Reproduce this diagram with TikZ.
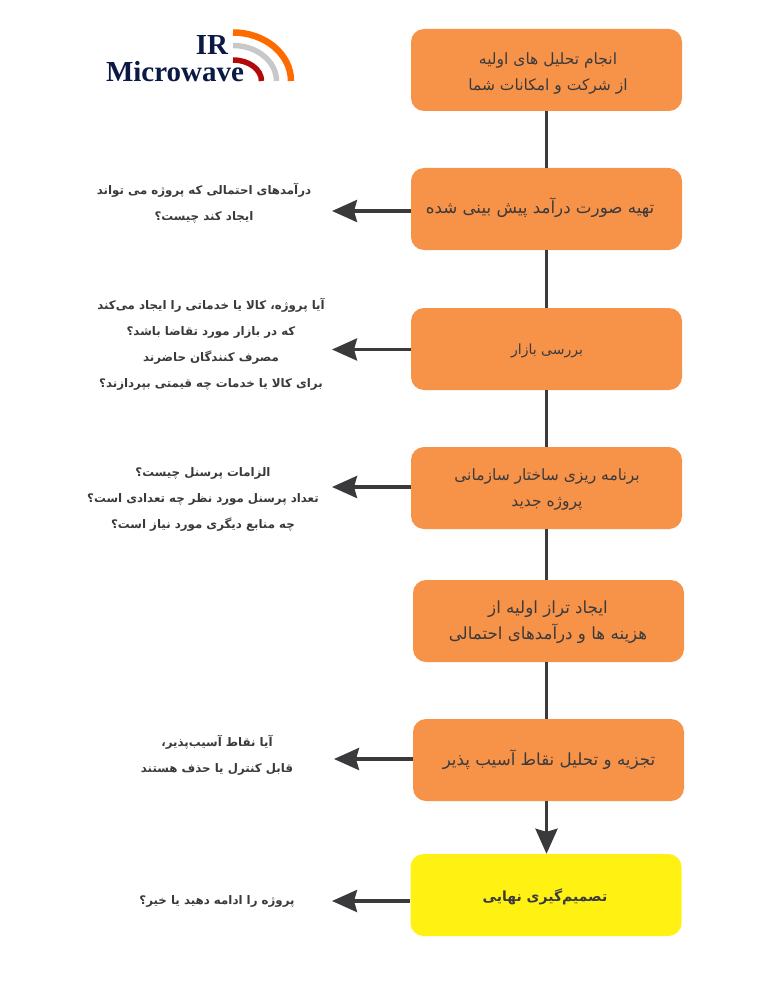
\documentclass[tikz,border=0pt]{standalone}
\usepackage{fontspec}
\usetikzlibrary{arrows.meta}
\TeXXeTstate=1
\newfontfamily\farsifont[Script=Arabic]{DejaVu Sans}
\newfontfamily\logofont{Liberation Serif}
\newcommand{\fa}[1]{\beginR #1\endR}
\definecolor{boxorange}{HTML}{F79249}
\definecolor{boxyellow}{HTML}{FFF212}
\definecolor{linegray}{HTML}{3A3A3C}
\definecolor{logoblue}{HTML}{0B1A45}
\tikzset{
	stepbox/.style={rounded corners=13pt, minimum width=271pt, minimum height=82pt, inner sep=0pt, fill=boxorange},
	endbox/.style={stepbox, fill=boxyellow},
	steptext/.style={text=linegray, align=center, font=\farsifont\fontsize{#1}{26}\selectfont},
	steptext/.default=15.5,
	asktext/.style={text=linegray, align=center, font=\farsifont\bfseries\fontsize{11.8}{26}\selectfont},
	joinline/.style={linegray, line width=3.5pt},
	askline/.style={joinline, -{Stealth[length=25pt, width=22pt, inset=3pt]}},
	logotext/.style={logoblue, anchor=base, font=\logofont\bfseries\fontsize{29}{29}\selectfont}
}
\begin{document}
\begin{tikzpicture}[x=1pt, y=-1pt]
	\useasboundingbox (0,0) rectangle (768,992);
	% boxes
	\node[stepbox] (survey) at (546.5,70) {};
	\node[stepbox] (income) at (546.5,209) {};
	\node[stepbox] (market) at (546.5,349) {};
	\node[stepbox] (staff) at (546.5,488) {};
	\node[stepbox] (balance) at (548.5,621) {};
	\node[stepbox] (risk) at (548.5,760) {};
	\node[endbox] (decision) at (546,895) {};
	% free ends of the side arrows
	\coordinate (incomeend) at (332,211);
	\coordinate (marketend) at (332,349.5);
	\coordinate (staffend) at (332,487);
	\coordinate (riskend) at (334,759);
	\coordinate (decisionend) at (332,901);
	% connectors
	\draw[joinline] (survey.south) -- (income.north);
	\draw[joinline] (income.south) -- (market.north);
	\draw[joinline] (market.south) -- (staff.north);
	\draw[joinline] (staff.south) -- (staff.south |- balance.north);
	\draw[joinline] (staff.south |- balance.south) -- (staff.south |- risk.north);
	\draw[askline] (staff.south |- risk.south) -- (staff.south |- decision.north);
	\draw[askline] (income.west |- incomeend) -- (incomeend);
	\draw[askline] (market.west |- marketend) -- (marketend);
	\draw[askline] (staff.west |- staffend) -- (staffend);
	\draw[askline] (risk.west |- riskend) -- (riskend);
	\draw[askline] (decision.west |- decisionend) -- (decisionend);
	% box texts
	\node[steptext] (surveytext) at (548,74) {\fa{انجام تحلیل های اولیه}\\\fa{از شرکت و امکانات شما}};
	\node[steptext=16.7] (incometext) at (540,208) {\fa{تهیه صورت درآمد پیش بینی شده}};
	\node[steptext=14] (markettext) at (547,351) {\fa{بررسی بازار}};
	\node[steptext] (stafftext) at (547,489) {\fa{برنامه ریزی ساختار سازمانی}\\\fa{پروژه جدید}};
	\node[steptext=16.7] (balancetext) at (548,622) {\fa{ایجاد تراز اولیه از}\\\fa{هزینه ها و درآمدهای احتمالی}};
	\node[steptext=16.7] (risktext) at (549,760) {\fa{تجزیه و تحلیل نقاط آسیب پذیر}};
	\node[steptext, font=\farsifont\bfseries\fontsize{14}{26}\selectfont] (decisiontext) at (545,897) {\fa{تصمیم‌گیری نهایی}};
	% side texts
	\node[asktext] (incomeask) at (204,203.5) {\fa{درآمدهای احتمالی که پروژه می تواند}\\\fa{ایجاد کند چیست؟}};
	\node[asktext] (marketask) at (211,344.5) {\fa{آیا پروژه، کالا یا خدماتی را ایجاد می‌کند}\\\fa{که در بازار مورد تقاضا باشد؟}\\\fa{مصرف کنندگان حاضرند}\\\fa{برای کالا یا خدمات چه قیمتی بپردازند؟}};
	\node[asktext] (staffask) at (203,499.5) {\fa{الزامات پرسنل چیست؟}\\\fa{تعداد پرسنل مورد نظر چه تعدادی است؟}\\\fa{چه منابع دیگری مورد نیاز است؟}};
	\node[asktext] (riskask) at (217,755) {\fa{آیا نقاط آسیب‌پذیر،}\\\fa{قابل کنترل یا حذف هستند}};
	\node[asktext] (decisionask) at (217,901.5) {\fa{پروژه را ادامه دهید یا خیر؟}};
	% logo
	\draw[line width=6.5pt, draw={rgb,255:red,255;green,106;blue,0}] (233,32.5) arc[start angle=-90, end angle=0, x radius=58, y radius=48.5];
	\draw[line width=5.5pt, draw={rgb,255:red,200;green,200;blue,200}] (233,45.5) arc[start angle=-90, end angle=0, x radius=43.5, y radius=35.5];
	\draw[line width=5.5pt, draw={rgb,255:red,178;green,10;blue,10}] (233,60) arc[start angle=-90, end angle=0, x radius=28.5, y radius=21];
	\node[logotext] (logoir) at (212,55) {IR};
	\node[logotext] (logomicro) at (175,81.5) {Microwave};
\end{tikzpicture}
\end{document}
